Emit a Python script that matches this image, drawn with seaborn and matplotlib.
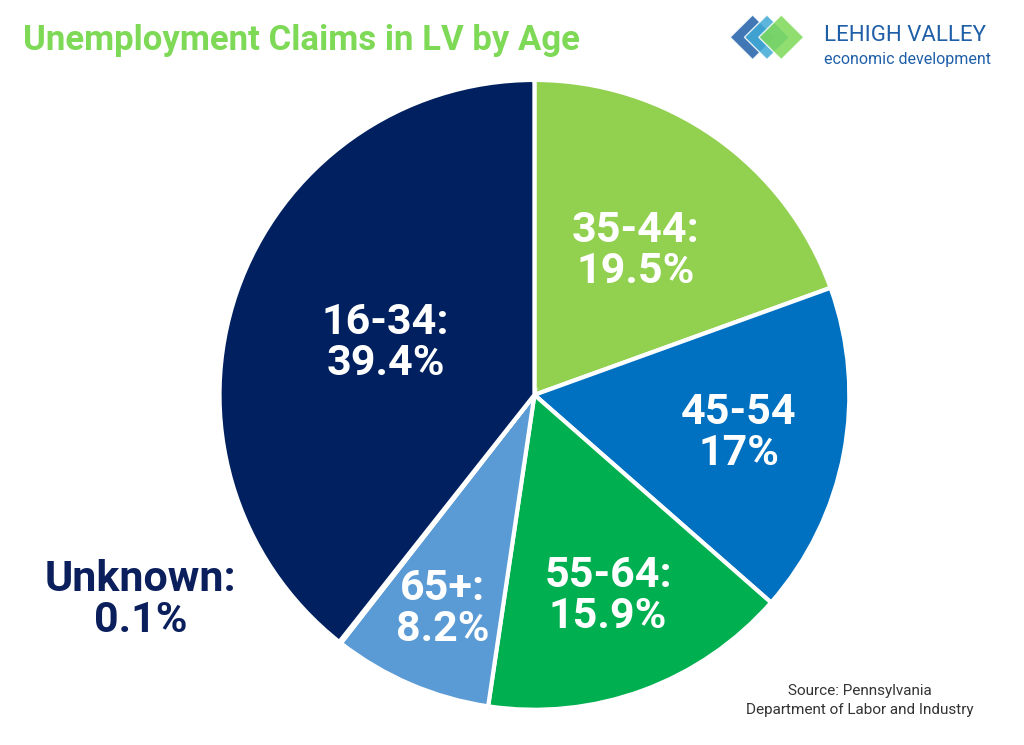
import numpy as np
import seaborn as sns
import matplotlib.pyplot as plt
from matplotlib.patches import Polygon

sns.set_theme(style="white")
plt.rcParams['font.family'] = ['Roboto', 'DejaVu Sans']

# data, clockwise from 12 o'clock
ages = ['35-44', '45-54', '55-64', '65+', 'Unknown', '16-34']
shares = [19.5, 17.0, 15.9, 8.2, 0.1, 39.4]
label_texts = ['35-44:\n19.5%', '45-54\n17%', '55-64:\n15.9%', '65+:\n8.2%', '', '16-34:\n39.4%']
colors = ['#92D050', '#0070C0', '#00B050', '#5B9BD5', '#002060', '#002060']
label_r = [0.56, 0.66, 0.68, 0.74, 0, 0.50]

fig = plt.figure(figsize=(10.24, 7.45), dpi=100)
fig.patch.set_facecolor('white')

ax = fig.add_axes([0.522 - 0.3076, 0.47 - 0.423, 0.615, 0.846])
wedges, _ = ax.pie(shares, colors=colors, startangle=90, counterclock=False,
                   wedgeprops=dict(edgecolor='white', linewidth=3))
ax.set_xlim(-1.0, 1.0)
ax.set_ylim(-1.0, 1.0)
ax.set_aspect('equal')

for w, txt, r in zip(wedges, label_texts, label_r):
    if not txt:
        continue
    ang = np.deg2rad((w.theta1 + w.theta2) / 2)
    ax.text(r * np.cos(ang), r * np.sin(ang), txt, ha='center', va='center',
            color='white', fontsize=31, fontweight='bold', linespacing=1.0)

fig.text(0.137, 0.195, 'Unknown:\n0.1%', ha='center', va='center', color='#0B1F5C',
         fontsize=31, fontweight='bold', linespacing=1.0)

fig.text(0.022, 0.945, 'Unemployment Claims in LV by Age', color='#7ED957',
         fontsize=25, fontweight='bold', va='center', ha='left')

# logo
fig.text(0.805, 0.953, 'LEHIGH VALLEY', color='#1F5FA8', fontsize=16,
         va='center')
fig.text(0.805, 0.92, 'economic development', color='#1F5FA8', fontsize=11.5,
         va='center')
lx, ly = 0.735, 0.935
for i, c in enumerate(['#1F5FA8', '#3FA9D6', '#7ED957']):
    sq = Polygon([(lx + 0.014 * i, ly + 0.045), (lx + 0.014 * i + 0.022, ly + 0.015),
                  (lx + 0.014 * i, ly - 0.015), (lx + 0.014 * i - 0.022, ly + 0.015)],
                 closed=True, transform=fig.transFigure, facecolor=c, alpha=0.85)
    fig.patches.append(sq)

fig.text(0.84, 0.06, 'Source: Pennsylvania\nDepartment of Labor and Industry',
         ha='center', va='center', color='#333333', fontsize=11,
         linespacing=1.5)

fig.savefig('out.png', dpi=100)
